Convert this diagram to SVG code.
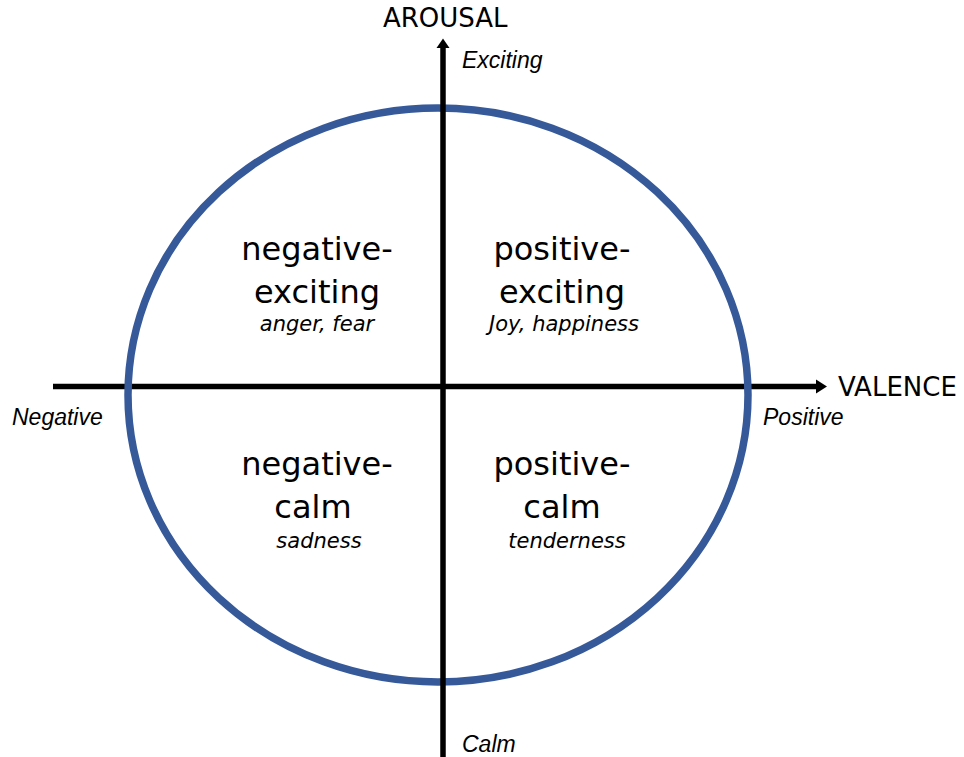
<svg xmlns="http://www.w3.org/2000/svg" width="964" height="757" viewBox="0 0 964 757">
  <style>
    .axis { stroke: #000; stroke-width: 5.5; fill: none; }
    .title { font-family: "DejaVu Sans", "Liberation Sans", sans-serif; font-size: 26px; fill: #000; }
    .pole { font-family: "Liberation Sans", Arial, sans-serif; font-style: italic; font-size: 23px; fill: #000; }
    .quad { font-family: "DejaVu Sans", "Liberation Sans", sans-serif; font-size: 32px; fill: #000; text-anchor: middle; }
    .emo { font-family: "DejaVu Sans", "Liberation Sans", sans-serif; font-style: italic; font-size: 21px; fill: #000; text-anchor: middle; }
    .ring { fill: none; stroke: #36599A; stroke-width: 7.5; }
  </style>
  <rect width="964" height="757" fill="#fff"/>

  <g id="connectors">
    <line id="valence-axis" class="axis" x1="53" y1="386.5" x2="817" y2="386.5"/>
    <polygon points="816,379.5 827,386.5 816,393.5" fill="#000"/>
  </g>

  <g id="circle">
    <ellipse class="ring" cx="438" cy="395" rx="310" ry="287"/>
  </g>

  <g id="connectors-vertical">
    <line id="arousal-axis" class="axis" x1="443" y1="757" x2="443" y2="47"/>
    <polygon points="436.5,48 443,38.5 449.5,48" fill="#000"/>
  </g>

  <g id="axis-labels">
    <text class="title" x="383" y="27">AROUSAL</text>
    <text class="title" x="838" y="396">VALENCE</text>
    <text class="pole" x="462" y="68">Exciting</text>
    <text class="pole" x="462" y="752">Calm</text>
    <text class="pole" x="12" y="425">Negative</text>
    <text class="pole" x="763" y="425">Positive</text>
  </g>

  <g id="negative-exciting">
    <text class="quad" x="317" y="260">negative-</text>
    <text class="quad" x="317" y="303">exciting</text>
    <text class="emo" x="317" y="331">anger, fear</text>
  </g>

  <g id="positive-exciting">
    <text class="quad" x="562" y="260">positive-</text>
    <text class="quad" x="562" y="303">exciting</text>
    <text class="emo" x="564" y="331">Joy, happiness</text>
  </g>

  <g id="negative-calm">
    <text class="quad" x="317" y="475">negative-</text>
    <text class="quad" x="313" y="518">calm</text>
    <text class="emo" x="319" y="548">sadness</text>
  </g>

  <g id="positive-calm">
    <text class="quad" x="562" y="475">positive-</text>
    <text class="quad" x="562" y="518">calm</text>
    <text class="emo" x="567" y="548">tenderness</text>
  </g>
</svg>
